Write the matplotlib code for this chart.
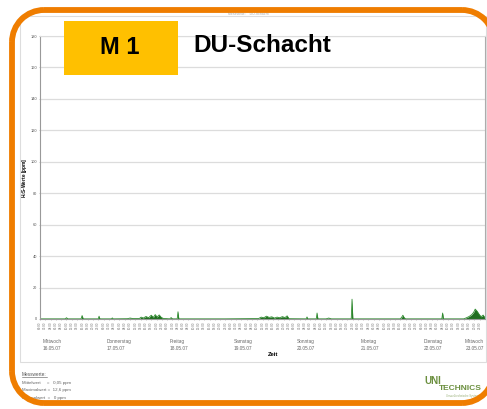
import matplotlib
matplotlib.use('Agg')
import matplotlib.pyplot as plt
from matplotlib.patches import Arc, Rectangle

plt.rcParams['font.family'] = ['Liberation Sans', 'DejaVu Sans']
plt.rcParams['savefig.bbox'] = 'standard'

# Messdaten H2S, Stunden ab Mittwoch 16.05.07 00:00
zeit_h = [0, 6, 9.5, 10, 10.5, 15.5, 15.9, 16.3, 22.0, 22.3, 22.6, 27, 27.3, 27.6,
          33, 34, 35, 37.5, 38.2, 39, 40, 41, 42, 42.8, 43.5, 44.2, 45, 45.8, 46.5,
          49, 49.5, 50, 51.8, 52.1, 52.4, 70, 82.5, 83.5, 84.5, 85.5, 86.5, 87.5,
          88.5, 89.5, 90.5, 91.5, 92.5, 93.3, 94, 100.5, 100.8, 101.1, 104.3, 104.6,
          104.9, 108, 109, 110, 117.5, 117.8, 118.1, 130, 136, 136.5, 137, 137.5,
          138, 151.7, 152, 152.3, 160, 161, 162, 163, 163.7, 164.3, 165, 165.7,
          166.5, 167.3, 168]
h2s_ppm = [0.1, 0.1, 0.1, 0.8, 0.1, 0.1, 2.2, 0.1, 0.1, 1.8, 0.1, 0.1, 0.7, 0.1,
           0.2, 0.6, 0.3, 0.3, 1.2, 0.6, 1.6, 0.8, 2.4, 1.0, 2.8, 1.2, 2.6, 1.0, 0.4,
           0.1, 0.9, 0.1, 0.1, 4.6, 0.1, 0.1, 0.3, 1.2, 0.8, 1.8, 1.0, 1.4,
           0.6, 1.2, 0.8, 1.5, 0.9, 2.0, 0.2, 0.1, 1.3, 0.1, 0.1, 3.8,
           0.1, 0.1, 0.6, 0.1, 0.1, 12.6, 0.1, 0.1, 0.1, 1.0, 2.4, 0.8,
           0.1, 0.1, 3.8, 0.1, 0.1, 0.8, 1.6, 2.8, 4.2, 6.3, 5.0, 3.2,
           1.4, 2.5, 0.8]

tage = ['Mittwoch\n16.05.07', 'Donnerstag\n17.05.07', 'Freitag\n18.05.07',
        'Samstag\n19.05.07', 'Sonntag\n20.05.07', 'Montag\n21.05.07',
        'Dienstag\n22.05.07', 'Mittwoch\n23.05.07']
uhrzeiten = ['00:00', '02:00', '04:00', '06:00', '08:00', '10:00',
             '12:00', '14:00', '16:00', '18:00', '20:00', '22:00']
y_ticks = [0, 20, 40, 60, 80, 100, 120, 140, 160, 180]
messwerte = ['Mittelwert     =   0,05 ppm', 'Maximalwert =  12,6 ppm', 'Minimalwert  =   0 ppm']

W, H = 487, 409
fig = plt.figure(figsize=(W / 100, H / 100), dpi=100)

def fx(px):
    return px / W

def fy(py):
    return 1 - py / H

# Seitenrahmen (Scan)
fig.patches.append(Rectangle((fx(20), fy(362)), fx(466), 346 / H, transform=fig.transFigure,
                             fill=False, ec='#dddddd', lw=0.8))

ax = fig.add_axes([fx(40), fy(319), fx(445), 283 / H])
ax.fill_between(zeit_h, h2s_ppm, color='#1f6e1f', lw=0)
ax.plot(zeit_h, h2s_ppm, color='#2e8b2e', lw=0.6)

ax.set_xlim(0, 168)
ax.set_ylim(0, 180)
ax.set_yticks(y_ticks)
ax.set_yticklabels([str(v) for v in y_ticks], fontsize=2.8, color='#555555')
ax.grid(axis='y', color='#dcdcdc', lw=0.9)
ax.set_axisbelow(True)

# Zeitachse: alle 2 Stunden
xt = [t * 2 for t in range(84)]
ax.set_xticks(xt)
ax.set_xticklabels([uhrzeiten[i % 12] for i in range(84)], rotation=90, fontsize=2.2,
                   color='#777777')
ax.tick_params(axis='both', length=1, width=0.4, color='#999999', pad=1)

for s in ['left', 'bottom']:
    ax.spines[s].set_color('#999999')
    ax.spines[s].set_linewidth(0.8)
ax.spines['right'].set_color('#aaaaaa')
ax.spines['right'].set_linewidth(0.8)
ax.spines['top'].set_color('#dcdcdc')

ax.set_ylabel('H$_2$S-Werte [ppm]', fontsize=3.4, fontweight='bold', labelpad=0)
ax.yaxis.set_label_coords(-0.024, 0.5)

for i, tag in enumerate(tage):
    if i < 7:
        ax.text(i * 24 + 1, -12.5, tag, fontsize=3.4, color='#666666', va='top', ha='left',
                transform=ax.transData, clip_on=False, linespacing=1.6)
    else:
        ax.text(167.5, -12.5, tag, fontsize=3.4, color='#666666', va='top', ha='right',
                transform=ax.transData, clip_on=False, linespacing=1.6)
fig.text(fx(273), fy(354), 'Zeit', fontsize=4.2, fontweight='bold', va='center', ha='center')

# Titel
fig.text(fx(228), fy(14), 'Messstelle:    DU-Schacht', fontsize=2.5, color='#aaaaaa', va='center')
fig.patches.append(Rectangle((fx(64), fy(75)), fx(114), 54 / H, transform=fig.transFigure,
                             fc='#ffc000', ec='none', zorder=5))
fig.text(fx(120), fy(47), 'M 1', fontsize=17, fontweight='bold', ha='center', va='center', zorder=6)
fig.text(fx(193), fy(45), 'DU-Schacht', fontsize=17.5, fontweight='bold', ha='left', va='center', zorder=6)

# Messwerte
fig.text(fx(22), fy(374), 'Messwerte:', fontsize=3.4, color='#555555', va='center')
fig.add_artist(plt.Line2D([fx(22), fx(47)], [fy(377), fy(377)], color='#555555', lw=0.4))
for i, m in enumerate(messwerte):
    fig.text(fx(22), fy(383 + i * 7.5), m, fontsize=3.2, color='#666666', va='center')

# Logo
fig.text(fx(424), fy(381), 'UNI', fontsize=7, fontweight='bold', color='#6b8f3e', va='center')
fig.text(fx(439), fy(389), 'TECHNICS', fontsize=6, fontweight='bold', color='#6b8f3e', va='center')
fig.text(fx(446), fy(396), 'Umwelttechnische Systeme', fontsize=2, color='#9ab07a', va='center')

# Orange Rahmen: Linien und Viertelkreise in Pixelkoordinaten, rechte Kante liegt ausserhalb
rahmen = fig.add_axes([0, 0, 1, 1], zorder=10)
rahmen.set_xlim(0, W)
rahmen.set_ylim(H, 0)
rahmen.axis('off')
rahmen.patch.set_alpha(0)
orange = '#ef7d00'
r = 32
links, oben, rechts, unten = 12, 10, 494, 403
rahmen.plot([links + r, rechts - r], [oben, oben], color=orange, lw=4.2, solid_capstyle='butt')
rahmen.plot([links + r, rechts - r], [unten, unten], color=orange, lw=4.2, solid_capstyle='butt')
rahmen.plot([links, links], [oben + r, unten - r], color=orange, lw=4.2, solid_capstyle='butt')
for cx, cy, t1, t2 in [(links + r, oben + r, 180, 270), (rechts - r, oben + r, 270, 360),
                       (links + r, unten - r, 90, 180), (rechts - r, unten - r, 0, 90)]:
    rahmen.add_patch(Arc((cx, cy), 2 * r, 2 * r, theta1=t1, theta2=t2, color=orange, lw=4.2))

fig.savefig('out.png', dpi=100, bbox_inches=None)
